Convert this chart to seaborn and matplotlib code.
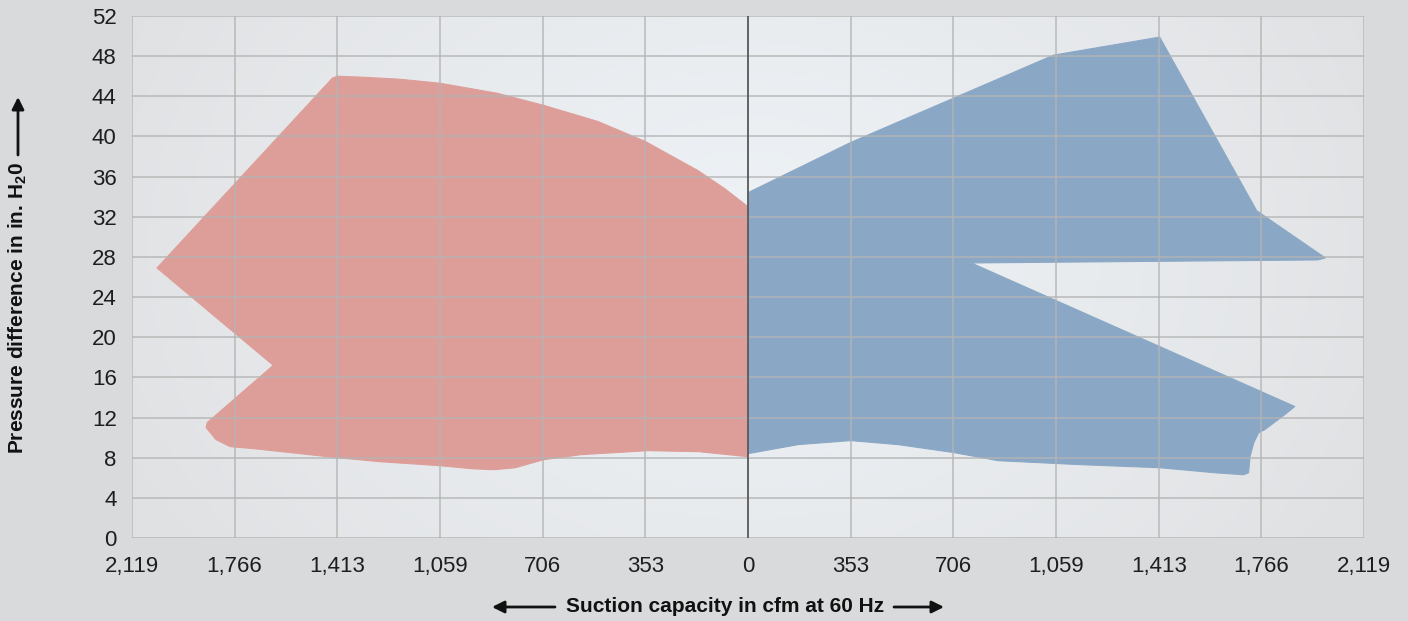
import numpy as np
import pandas as pd
import matplotlib
matplotlib.use('Agg')
import matplotlib.pyplot as plt
from matplotlib.colors import LinearSegmentedColormap
import seaborn as sns

# ---- data (x < 0 = left-hand pump range) ----
x_ticks = [-2119, -1766, -1413, -1059, -706, -353, 0, 353, 706, 1059, 1413, 1766, 2119]
y_ticks = list(range(0, 53, 4))

red_x = [-1413, -1323, -1196, -1059, -862, -703, -517, -353, -172, -80, 0,
         0, -170, -345, -575, -703, -800, -875, -950, -1059, -1265, -1413,
         -1700, -1781, -1830, -1864, -1860, -1633, -2033, -1430]
red_y = [46.0, 45.9, 45.7, 45.3, 44.3, 43.1, 41.5, 39.5, 36.6, 34.8, 33.0,
         8.1, 8.6, 8.7, 8.3, 7.8, 7.0, 6.8, 6.9, 7.2, 7.6, 8.0,
         8.9, 9.1, 9.8, 11.0, 11.5, 17.2, 26.9, 45.8]

blue_x = [0, 353, 1051, 1416, 1750, 1986, 1960, 768, 1881, 1847, 1778, 1757,
          1740, 1727, 1722, 1705, 1606, 1416, 1148, 861, 710, 517, 353, 172, 0]
blue_y = [34.4, 39.4, 48.1, 49.9, 32.6, 27.9, 27.7, 27.4, 13.1, 12.3, 10.8, 10.5,
          9.5, 8.1, 6.5, 6.3, 6.5, 7.0, 7.3, 7.7, 8.5, 9.3, 9.7, 9.3, 8.4]

red_color = "#dd9e99"
blue_color = "#8aa8c5"

sns.set_theme(style="white")
plt.rcParams['font.family'] = ['Liberation Sans', 'DejaVu Sans']
plt.rcParams['mathtext.fontset'] = 'custom'
plt.rcParams['mathtext.bf'] = 'Liberation Sans:bold'

fig = plt.figure(figsize=(14.08, 6.21), dpi=100, facecolor="#d9dadc")
ax = fig.add_axes([132 / 1408, 83 / 621, 1232 / 1408, 522 / 621])
ax.set_facecolor("#e4e5e7")

# soft radial backdrop inside the plot area
gx, gy = np.meshgrid(np.linspace(-1, 1, 300), np.linspace(0, 1, 150))
dist = np.sqrt(gx ** 2 + ((gy - 0.55) / 0.9) ** 2)
bg_cmap = LinearSegmentedColormap.from_list("bg", ["#eef3f7", "#e8ebee", "#e0e1e3"])
ax.imshow(dist, extent=[-2119, 2119, 0, 52], origin="lower", aspect="auto",
          cmap=bg_cmap, vmin=0, vmax=1.15, zorder=0)

df_red = pd.DataFrame({"x": red_x, "y": red_y})
df_blue = pd.DataFrame({"x": blue_x, "y": blue_y})
ax.fill(df_red["x"], df_red["y"], color=red_color, lw=0, zorder=1)
ax.fill(df_blue["x"], df_blue["y"], color=blue_color, lw=0, zorder=1)
sns.lineplot(data=pd.concat([df_red, df_red.iloc[:1]]), x="x", y="y", sort=False,
             estimator=None, color=red_color, lw=0.8, ax=ax, zorder=1)
sns.lineplot(data=pd.concat([df_blue, df_blue.iloc[:1]]), x="x", y="y", sort=False,
             estimator=None, color=blue_color, lw=0.8, ax=ax, zorder=1)

ax.set_xlim(-2119, 2119)
ax.set_ylim(0, 52)
ax.set_xticks(x_ticks)
ax.set_xticklabels([f"{abs(v):,}" for v in x_ticks])
ax.set_yticks(y_ticks)
ax.set_xlabel("")
ax.set_ylabel("")

ax.grid(True, color="#b4b4b4", lw=1.1, alpha=0.9, zorder=2)
ax.set_axisbelow(False)
for sp in ax.spines.values():
    sp.set_visible(False)
ax.axvline(0, color="#4a4a4a", lw=1.1, zorder=3)

ax.tick_params(axis="both", length=8, width=1, color="#b4b4b4", labelsize=16,
               labelcolor="#1e1e1e")
ax.tick_params(axis="y", pad=3)
ax.tick_params(axis="x", pad=5)
ax.get_xticklines()[12].set_color("#4a4a4a")

# axis titles with long arrows (placed in figure pixels)
fig.text(725 / 1408, 1 - 607 / 621, "Suction capacity in cfm at 60 Hz", fontsize=15,
         fontweight="bold", color="#111111", ha="center", va="center")
fig.text(18 / 1408, 1 - 308 / 621, "Pressure difference in in. H$_\\mathbf{2}$0",
         fontsize=15, fontweight="bold", color="#111111", ha="center", va="center",
         rotation=90)
arrow = dict(arrowstyle="-|>", color="#111111", lw=2, mutation_scale=18,
             shrinkA=0, shrinkB=0)
ax.annotate("", xy=(492, 14), xytext=(555, 14), xycoords="figure pixels",
            textcoords="figure pixels", arrowprops=arrow, annotation_clip=False)
ax.annotate("", xy=(944, 14), xytext=(894, 14), xycoords="figure pixels",
            textcoords="figure pixels", arrowprops=arrow, annotation_clip=False)
ax.annotate("", xy=(18, 524), xytext=(18, 466), xycoords="figure pixels",
            textcoords="figure pixels", arrowprops=arrow, annotation_clip=False)

plt.savefig("out.png", dpi=100, facecolor=fig.get_facecolor())
plt.close()
